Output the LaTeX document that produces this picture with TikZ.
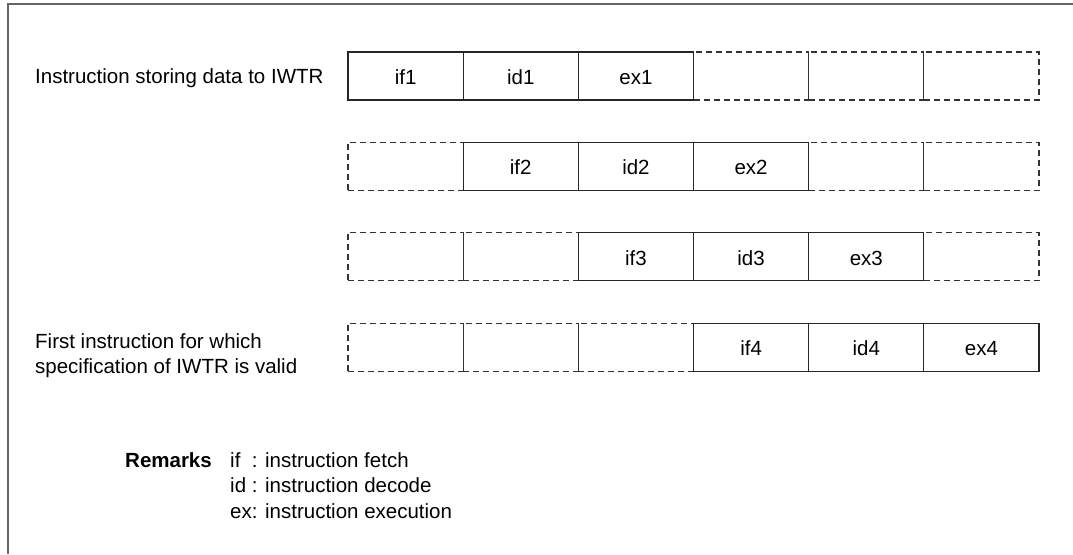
\documentclass[tikz,border=0pt]{standalone}
\usepackage{fontspec}
\setmainfont{Liberation Sans}
\begin{document}
\begin{tikzpicture}[x=1pt,y=-1pt,
  cell/.style={draw, minimum width=115.17pt, minimum height=48pt, inner sep=0pt,
    line width=1.1pt, font=\fontsize{20.5}{24}\selectfont},
  dcell/.style={cell, dash pattern=on 6pt off 4pt, draw=black!80},
  scell/.style={cell, draw=black!85, text depth=0pt, text height=17pt},
  lab/.style={font=\fontsize{20.5}{25.5}\selectfont, inner sep=0pt, anchor=base west},
  frame/.style={line width=2pt, draw=black!60}]
\useasboundingbox (0,0) rectangle (1073,554);
\draw[frame] (8,554) -- (8,4) -- (1073,4);
% dashed (empty) cells
\foreach \r in {1,...,4}{
  \foreach \c in {1,...,6}{
    \pgfmathtruncatemacro{\k}{\c-\r}
    \ifnum\k<0 \node[dcell] (c\r\c) at ({348+115.17*(\c-0.5)},{76+90.4*(\r-1)}) {};\fi
    \ifnum\k>2 \node[dcell] (c\r\c) at ({348+115.17*(\c-0.5)},{76+90.4*(\r-1)}) {};\fi
  }
}
% solid pipeline stages
\foreach \r in {1,...,4}{
  \foreach \k/\t in {0/if,1/id,2/ex}{
    \pgfmathtruncatemacro{\c}{\r+\k}
    \node[scell] (c\r\c) at ({348+115.17*(\c-0.5)},{76+90.4*(\r-1)}) {\t\r};
  }
}
\node[lab] (l1) at (35,83) {Instruction storing data to IWTR};
\node[lab] (l4a) at (35,348) {First instruction for which};
\node[lab] (l4b) at (35,373) {specification of IWTR is valid};
\node[lab, font=\fontsize{20.5}{25.5}\selectfont\bfseries] (rem) at (125,467) {Remarks};
\node[lab] (r1) at (230,467) {if\ \ : instruction fetch};
\node[lab] (r2) at (230,492.5) {id : instruction decode};
\node[lab] (r3) at (230,518) {ex: instruction execution};
\end{tikzpicture}
\end{document}
